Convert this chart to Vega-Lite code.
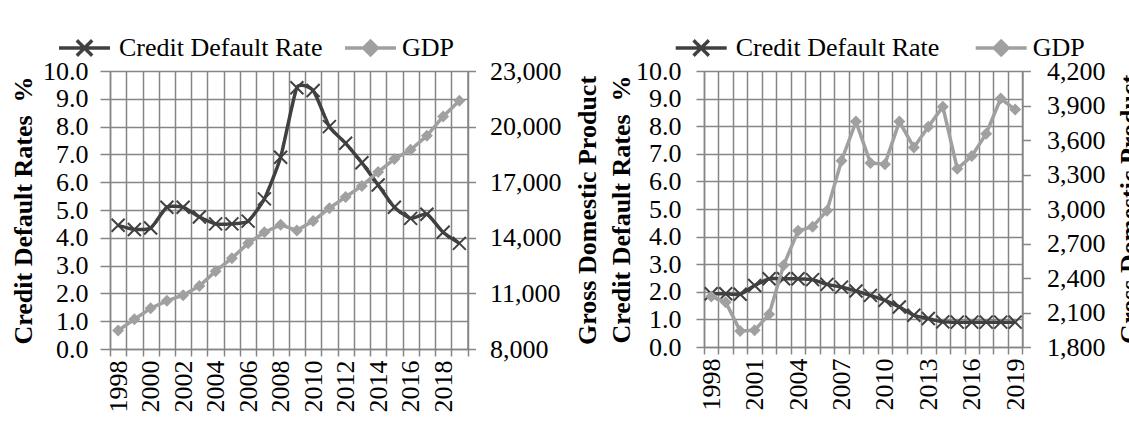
{
  "$schema": "https://vega.github.io/schema/vega-lite/v6.json",
  "padding": {"left": 10, "top": 20, "right": 0, "bottom": 0},
  "spacing": 8,
  "datasets": {
    "panelA": [
      {"year": 1998, "rate": 4.45, "gdp": 9000},
      {"year": 1999, "rate": 4.3, "gdp": 9600},
      {"year": 2000, "rate": 4.35, "gdp": 10200},
      {"year": 2001, "rate": 5.1, "gdp": 10600},
      {"year": 2002, "rate": 5.1, "gdp": 10900},
      {"year": 2003, "rate": 4.75, "gdp": 11400},
      {"year": 2004, "rate": 4.5, "gdp": 12200},
      {"year": 2005, "rate": 4.5, "gdp": 12900},
      {"year": 2006, "rate": 4.6, "gdp": 13700},
      {"year": 2007, "rate": 5.4, "gdp": 14300},
      {"year": 2008, "rate": 6.9, "gdp": 14700},
      {"year": 2009, "rate": 9.4, "gdp": 14400},
      {"year": 2010, "rate": 9.3, "gdp": 14900},
      {"year": 2011, "rate": 8.0, "gdp": 15600},
      {"year": 2012, "rate": 7.4, "gdp": 16200},
      {"year": 2013, "rate": 6.7, "gdp": 16800},
      {"year": 2014, "rate": 5.9, "gdp": 17550},
      {"year": 2015, "rate": 5.1, "gdp": 18250},
      {"year": 2016, "rate": 4.7, "gdp": 18750},
      {"year": 2017, "rate": 4.85, "gdp": 19500},
      {"year": 2018, "rate": 4.2, "gdp": 20550},
      {"year": 2019, "rate": 3.8, "gdp": 21400}
    ],
    "panelB": [
      {"year": 1998, "rate": 1.93, "gdp": 2240},
      {"year": 1999, "rate": 1.93, "gdp": 2190},
      {"year": 2000, "rate": 1.91, "gdp": 1940},
      {"year": 2001, "rate": 2.23, "gdp": 1945},
      {"year": 2002, "rate": 2.47, "gdp": 2085},
      {"year": 2003, "rate": 2.47, "gdp": 2510},
      {"year": 2004, "rate": 2.47, "gdp": 2810},
      {"year": 2005, "rate": 2.44, "gdp": 2845},
      {"year": 2006, "rate": 2.27, "gdp": 2985},
      {"year": 2007, "rate": 2.17, "gdp": 3420},
      {"year": 2008, "rate": 2.03, "gdp": 3760},
      {"year": 2009, "rate": 1.87, "gdp": 3400},
      {"year": 2010, "rate": 1.69, "gdp": 3390},
      {"year": 2011, "rate": 1.45, "gdp": 3760},
      {"year": 2012, "rate": 1.15, "gdp": 3535},
      {"year": 2013, "rate": 1.03, "gdp": 3715},
      {"year": 2014, "rate": 0.91, "gdp": 3890},
      {"year": 2015, "rate": 0.9, "gdp": 3350},
      {"year": 2016, "rate": 0.9, "gdp": 3460},
      {"year": 2017, "rate": 0.9, "gdp": 3655},
      {"year": 2018, "rate": 0.9, "gdp": 3960},
      {"year": 2019, "rate": 0.9, "gdp": 3865}
    ]
  },
  "hconcat": [
    {
      "width": 357.5,
      "height": 278,
      "data": {"name": "panelA"},
      "layer": [
        {
          "mark": {"type": "line", "interpolate": "cardinal", "tension": 0.5, "color": "#404040", "strokeWidth": 3.5},
          "encoding": {
            "x": {"field": "year", "type": "quantitative", "scale": {"domain": [1997.5, 2019.5], "nice": false, "zero": false},
              "axis": {"orient": "bottom", "values": [1997.5, 1998.5, 1999.5, 2000.5, 2001.5, 2002.5, 2003.5, 2004.5, 2005.5, 2006.5, 2007.5, 2008.5, 2009.5, 2010.5, 2011.5, 2012.5, 2013.5, 2014.5, 2015.5, 2016.5, 2017.5, 2018.5, 2019.5], "labels": false, "grid": true, "ticks": true, "tickSize": 7, "domain": true, "title": null}},
            "y": {"field": "rate", "type": "quantitative", "scale": {"domain": [0, 10], "nice": false},
              "axis": {"orient": "left", "values": [0, 1, 2, 3, 4, 5, 6, 7, 8, 9, 10], "format": ".1f", "grid": true, "tickSize": 10, "labelPadding": 12, "title": "Credit Default Rates \u00a0%", "titlePadding": 6}},
            "strokeDash": {"datum": "Credit Default Rate", "type": "nominal",
              "scale": {"domain": ["Credit Default Rate"], "range": [[1, 0]]},
              "legend": {"orient": "none", "legendX": -53, "legendY": -50.5, "title": null, "padding": 0,
                "symbolType": "M-1,0H1M-0.3,-0.3L0.3,0.3M-0.3,0.3L0.3,-0.3", "symbolSize": 2601, "symbolStrokeColor": "#404040", "symbolStrokeWidth": 3.5,
                "labelOffset": 7, "labelLimit": 500, "labelFont": "Liberation Serif", "labelFontSize": 26, "labelColor": "black"}}
          }
        },
        {
          "mark": {"type": "point", "shape": "M-1,-1L1,1M-1,1L1,-1", "filled": false, "color": "#404040", "strokeWidth": 2, "size": 169, "opacity": 1},
          "encoding": {
            "x": {"field": "year", "type": "quantitative", "scale": {"domain": [1997.5, 2019.5], "nice": false, "zero": false}, "axis": null},
            "y": {"field": "rate", "type": "quantitative", "scale": {"domain": [0, 10], "nice": false}, "axis": null}
          }
        },
        {
          "mark": {"type": "line", "strokeWidth": 3.5},
          "encoding": {
            "x": {"field": "year", "type": "quantitative", "scale": {"domain": [1997.5, 2019.5], "nice": false, "zero": false},
              "axis": {"orient": "bottom", "values": [1998, 2000, 2002, 2004, 2006, 2008, 2010, 2012, 2014, 2016, 2018], "format": "d", "labelAngle": -90, "grid": false, "ticks": false, "tickSize": 0, "domain": false, "labelPadding": 11, "title": null}},
            "y": {"field": "gdp", "type": "quantitative", "scale": {"domain": [8000, 23000], "nice": false, "zero": false},
              "axis": {"orient": "right", "values": [8000, 11000, 14000, 17000, 20000, 23000], "format": ",.0f", "grid": false, "tickSize": 8, "labelPadding": 14, "title": "Gross Domestic Product", "titleAngle": -90, "titleBaseline": "top", "titlePadding": 13}},
            "color": {"datum": "GDP", "type": "nominal",
              "scale": {"domain": ["GDP"], "range": ["#a0a0a0"]},
              "legend": {"orient": "none", "legendX": 233, "legendY": -50.5, "title": null, "padding": 0,
                "symbolType": "M-1,0H1M0,-0.27L0.27,0L0,0.27L-0.27,0Z", "symbolSize": 2601, "symbolFillColor": "#a0a0a0", "symbolStrokeWidth": 3.5,
                "labelOffset": 4, "labelLimit": 500, "labelFont": "Liberation Serif", "labelFontSize": 26, "labelColor": "black"}}
          }
        },
        {
          "mark": {"type": "point", "shape": "M0,-1L1,0L0,1L-1,0Z", "filled": true, "color": "#a0a0a0", "size": 144, "opacity": 1},
          "encoding": {
            "x": {"field": "year", "type": "quantitative", "scale": {"domain": [1997.5, 2019.5], "nice": false, "zero": false}, "axis": null},
            "y": {"field": "gdp", "type": "quantitative", "scale": {"domain": [8000, 23000], "nice": false, "zero": false}, "axis": null}
          }
        }
      ],
      "resolve": {"scale": {"y": "independent"}, "axis": {"x": "independent", "y": "independent"}}
    },
    {
      "width": 318.4,
      "height": 276,
      "data": {"name": "panelB"},
      "layer": [
        {
          "mark": {"type": "line", "interpolate": "cardinal", "tension": 0.5, "color": "#404040", "strokeWidth": 3.5},
          "encoding": {
            "x": {"field": "year", "type": "quantitative", "scale": {"domain": [1997.5, 2019.5], "nice": false, "zero": false},
              "axis": {"orient": "bottom", "values": [1997.5, 1998.5, 1999.5, 2000.5, 2001.5, 2002.5, 2003.5, 2004.5, 2005.5, 2006.5, 2007.5, 2008.5, 2009.5, 2010.5, 2011.5, 2012.5, 2013.5, 2014.5, 2015.5, 2016.5, 2017.5, 2018.5, 2019.5], "labels": false, "grid": true, "ticks": true, "tickSize": 7, "domain": true, "title": null}},
            "y": {"field": "rate", "type": "quantitative", "scale": {"domain": [0, 10], "nice": false},
              "axis": {"orient": "left", "values": [0, 1, 2, 3, 4, 5, 6, 7, 8, 9, 10], "format": ".1f", "grid": true, "tickSize": 8, "labelPadding": 15, "title": "Credit Default Rates \u00a0%", "titlePadding": 1}},
            "strokeDash": {"datum": "Credit Default Rate", "type": "nominal",
              "scale": {"domain": ["Credit Default Rate"], "range": [[1, 0]]},
              "legend": {"orient": "none", "legendX": -30.3, "legendY": -50.5, "title": null, "padding": 0,
                "symbolType": "M-1,0H1M-0.3,-0.3L0.3,0.3M-0.3,0.3L0.3,-0.3", "symbolSize": 2601, "symbolStrokeColor": "#404040", "symbolStrokeWidth": 3.5,
                "labelOffset": 7, "labelLimit": 500, "labelFont": "Liberation Serif", "labelFontSize": 26, "labelColor": "black"}}
          }
        },
        {
          "mark": {"type": "point", "shape": "M-1,-1L1,1M-1,1L1,-1", "filled": false, "color": "#404040", "strokeWidth": 2, "size": 169, "opacity": 1},
          "encoding": {
            "x": {"field": "year", "type": "quantitative", "scale": {"domain": [1997.5, 2019.5], "nice": false, "zero": false}, "axis": null},
            "y": {"field": "rate", "type": "quantitative", "scale": {"domain": [0, 10], "nice": false}, "axis": null}
          }
        },
        {
          "mark": {"type": "line", "strokeWidth": 3.5},
          "encoding": {
            "x": {"field": "year", "type": "quantitative", "scale": {"domain": [1997.5, 2019.5], "nice": false, "zero": false},
              "axis": {"orient": "bottom", "values": [1998, 2001, 2004, 2007, 2010, 2013, 2016, 2019], "format": "d", "labelAngle": -90, "grid": false, "ticks": false, "tickSize": 0, "domain": false, "labelPadding": 11, "title": null}},
            "y": {"field": "gdp", "type": "quantitative", "scale": {"domain": [1800, 4200], "nice": false, "zero": false},
              "axis": {"orient": "right", "values": [1800, 2100, 2400, 2700, 3000, 3300, 3600, 3900, 4200], "format": ",.0f", "grid": false, "tickSize": 8, "labelPadding": 16, "title": "Gross Domestic Product", "titleAngle": -90, "titleBaseline": "top", "titlePadding": 12}},
            "color": {"datum": "GDP", "type": "nominal",
              "scale": {"domain": ["GDP"], "range": ["#a0a0a0"]},
              "legend": {"orient": "none", "legendX": 269.7, "legendY": -50.5, "title": null, "padding": 0,
                "symbolType": "M-1,0H1M0,-0.27L0.27,0L0,0.27L-0.27,0Z", "symbolSize": 2601, "symbolFillColor": "#a0a0a0", "symbolStrokeWidth": 3.5,
                "labelOffset": 4, "labelLimit": 500, "labelFont": "Liberation Serif", "labelFontSize": 26, "labelColor": "black"}}
          }
        },
        {
          "mark": {"type": "point", "shape": "M0,-1L1,0L0,1L-1,0Z", "filled": true, "color": "#a0a0a0", "size": 144, "opacity": 1},
          "encoding": {
            "x": {"field": "year", "type": "quantitative", "scale": {"domain": [1997.5, 2019.5], "nice": false, "zero": false}, "axis": null},
            "y": {"field": "gdp", "type": "quantitative", "scale": {"domain": [1800, 4200], "nice": false, "zero": false}, "axis": null}
          }
        }
      ],
      "resolve": {"scale": {"y": "independent"}, "axis": {"x": "independent", "y": "independent"}}
    }
  ],
  "resolve": {"scale": {"x": "independent", "y": "independent", "strokeDash": "independent", "color": "independent"}, "legend": {"strokeDash": "independent", "color": "independent"}},
  "config": {
    "view": {"stroke": null},
    "axis": {
      "labelFont": "Liberation Serif", "labelFontSize": 26, "labelColor": "black", "labelFlush": false, "labelOverlap": false, "labelLimit": 300,
      "titleFont": "Liberation Serif", "titleFontSize": 26, "titleFontWeight": "bold", "titleColor": "black", "titleLimit": 1000,
      "gridColor": "#868686", "gridWidth": 1.5, "gridOpacity": 1,
      "tickColor": "#868686", "tickWidth": 1.5,
      "domainColor": "#868686", "domainWidth": 1.5
    }
  }
}
